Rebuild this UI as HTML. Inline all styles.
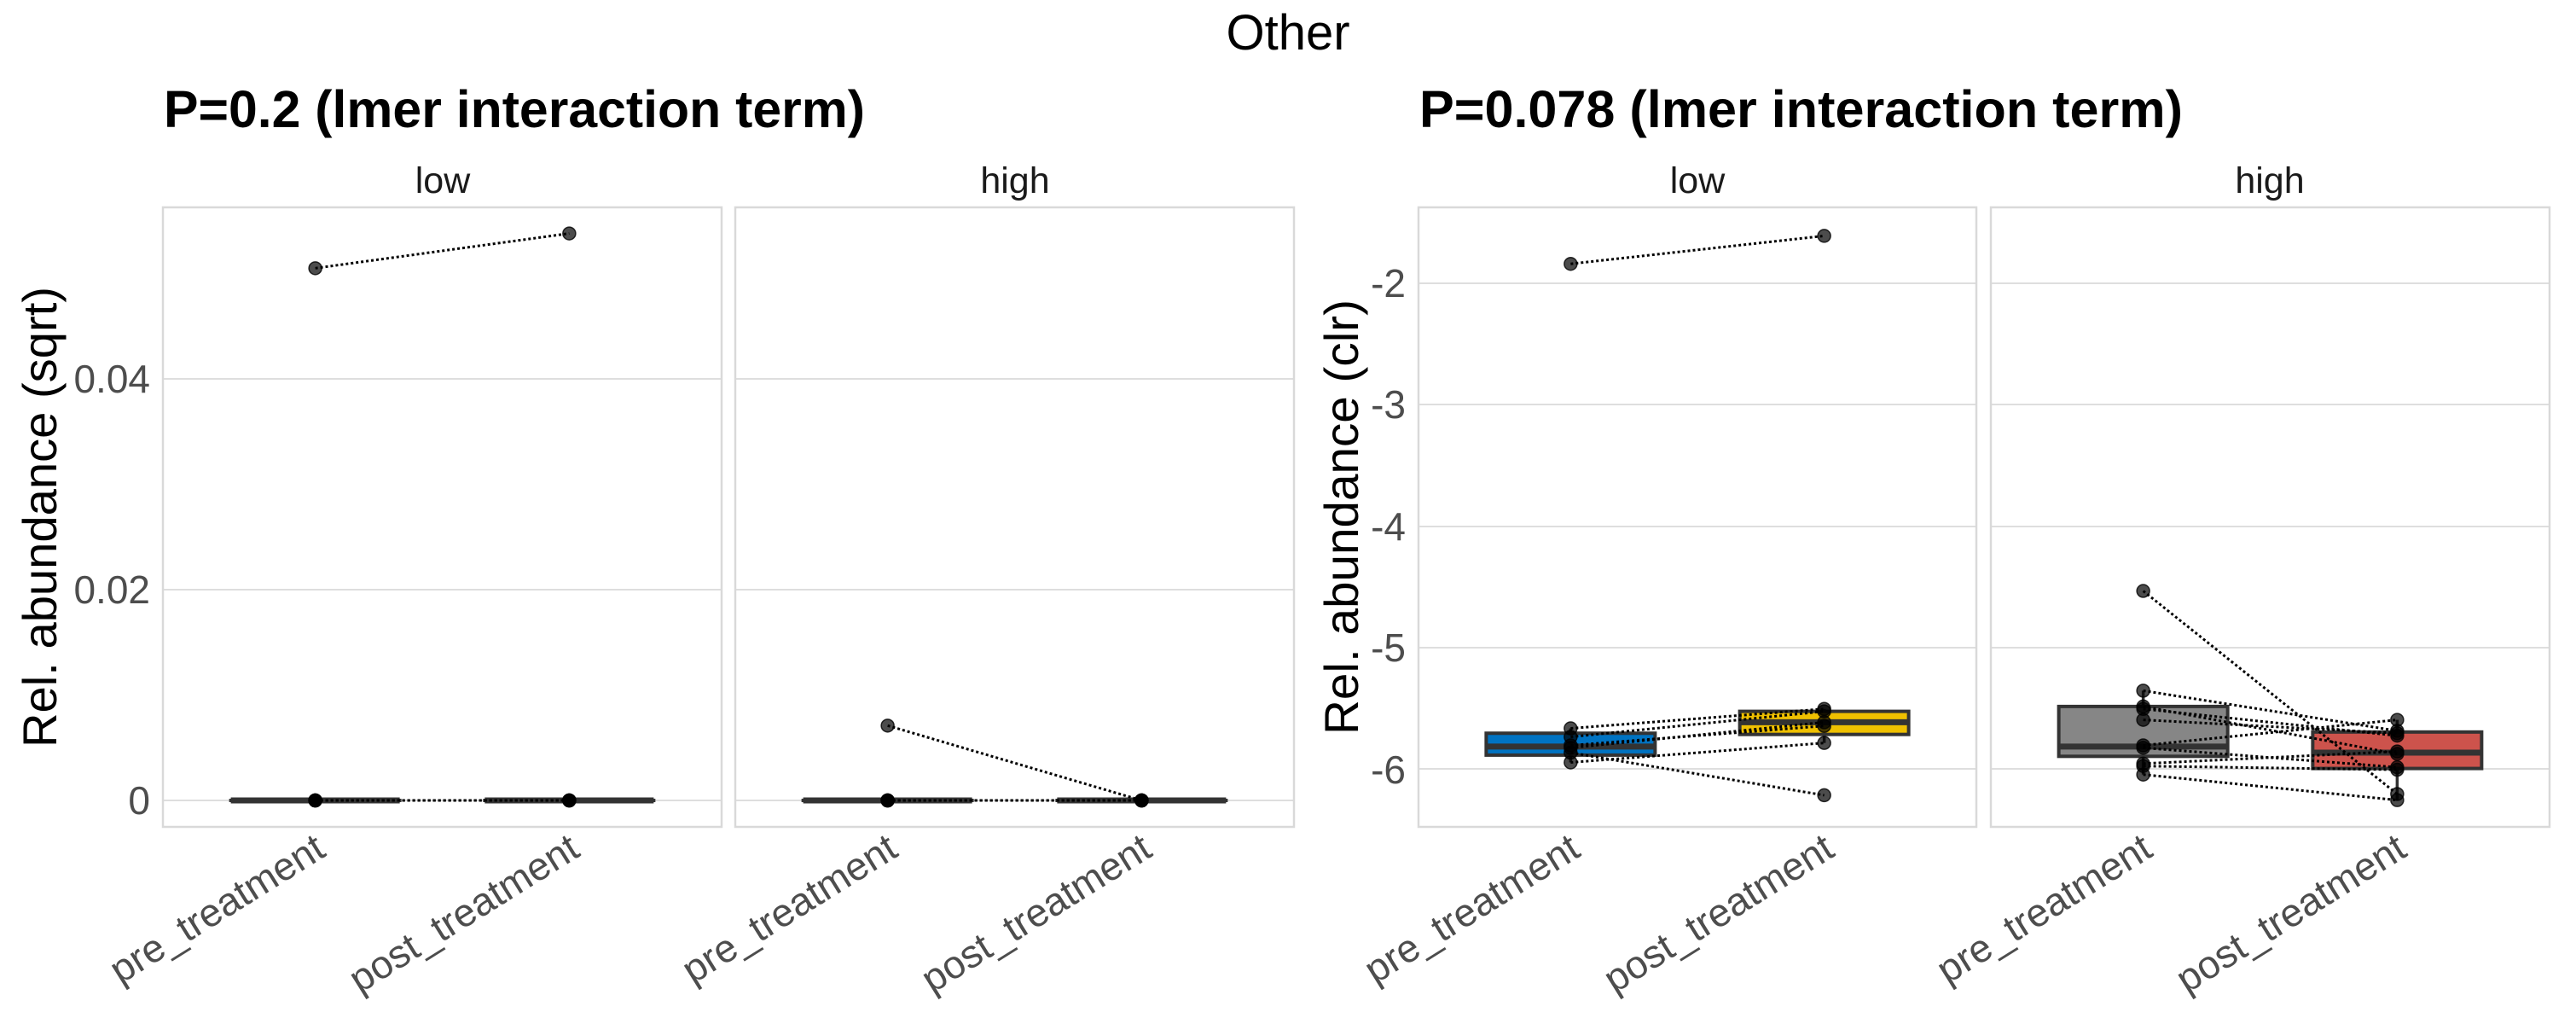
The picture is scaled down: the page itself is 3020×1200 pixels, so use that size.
<!DOCTYPE html>
<html><head><meta charset="utf-8"><style>
html,body{margin:0;padding:0;background:#fff;}
svg{display:block;font-family:"Liberation Sans",sans-serif;}
</style></head><body>
<svg id="s" width="3020" height="1200" viewBox="0 0 3020 1200" xmlns="http://www.w3.org/2000/svg">
<rect width="3020" height="1200" fill="#fff"/>
<g id="grid"></g>
<g id="data"></g>
<text x="1510" y="58" font-size="58" text-anchor="middle" fill="#000">Other</text>
<text x="192" y="149" font-size="61" font-weight="bold" textLength="822" lengthAdjust="spacingAndGlyphs">P=0.2 (lmer interaction term)</text>
<text x="1664" y="149" font-size="61" font-weight="bold" textLength="895" lengthAdjust="spacingAndGlyphs">P=0.078 (lmer interaction term)</text>
<g font-size="43" text-anchor="middle" fill="#1a1a1a">
<text x="519" y="226">low</text><text x="1190" y="226">high</text>
<text x="1990" y="226">low</text><text x="2661" y="226">high</text>
</g>
<g font-size="46" text-anchor="end" fill="#4d4d4d">
<text x="176" y="460">0.04</text><text x="176" y="707">0.02</text><text x="176" y="954">0</text>
<text x="1648" y="348">-2</text><text x="1648" y="490">-3</text><text x="1648" y="633">-4</text><text x="1648" y="775">-5</text><text x="1648" y="918">-6</text>
</g>
<text transform="translate(66,606) rotate(-90)" font-size="56" text-anchor="middle" fill="#000" textLength="540" lengthAdjust="spacingAndGlyphs">Rel. abundance (sqrt)</text>
<text transform="translate(1592,606) rotate(-90)" font-size="56" text-anchor="middle" fill="#000" textLength="510" lengthAdjust="spacingAndGlyphs">Rel. abundance (clr)</text>
<g font-size="46" text-anchor="end" fill="#4d4d4d">
<text transform="translate(384,1002) rotate(-32)">pre_treatment</text>
<text transform="translate(682,1002) rotate(-32)">post_treatment</text>
<text transform="translate(1055,1002) rotate(-32)">pre_treatment</text>
<text transform="translate(1353,1002) rotate(-32)">post_treatment</text>
<text transform="translate(1855,1002) rotate(-32)">pre_treatment</text>
<text transform="translate(2153,1002) rotate(-32)">post_treatment</text>
<text transform="translate(2526,1002) rotate(-32)">pre_treatment</text>
<text transform="translate(2824,1002) rotate(-32)">post_treatment</text>
</g>
</svg>
<script>
(function(){
var NS="http://www.w3.org/2000/svg";
var grid=document.getElementById("grid"),data=document.getElementById("data");
function el(p,tag,a){var e=document.createElementNS(NS,tag);for(var k in a)e.setAttribute(k,a[k]);p.appendChild(e);return e;}
var panels=[[191,846],[862,1517],[1663,2317],[2334,2989]];
var top=243,bot=969;
var gl=[[444,691,938],[444,691,938],[332,474,617,759,901],[332,474,617,759,901]];
panels.forEach(function(p,i){
 gl[i].forEach(function(y){el(grid,"line",{x1:p[0],x2:p[1],y1:y,y2:y,stroke:"#dedede","stroke-width":2});});
 el(grid,"rect",{x:p[0],y:top,width:p[1]-p[0],height:bot-top,fill:"none",stroke:"#d9d9d9","stroke-width":2.5});
});
function px(i,k){var p=panels[i];return p[0]+(p[1]-p[0])*(k==0?0.6/2.2:1.6/2.2);}
function ys(v){return 938-v/0.04*494;}
function yc(v){return 332-(v+2)*142.5;}
function box(i,k,q1,med,q3,fill,wlo,whi){
 var x=px(i,k),Y=i<2?ys:yc;
 if(wlo!==undefined){el(data,"line",{x1:x,x2:x,y1:Y(q1),y2:Y(wlo),stroke:"#333","stroke-width":3.5});}
 if(whi!==undefined){el(data,"line",{x1:x,x2:x,y1:Y(q3),y2:Y(whi),stroke:"#333","stroke-width":3.5});}
 el(data,"rect",{x:x-99,y:Y(q3),width:198,height:Math.max(Y(q1)-Y(q3),0.01),fill:fill,stroke:"#333","stroke-width":4});
 el(data,"line",{x1:x-99,x2:x+99,y1:Y(med),y2:Y(med),stroke:"#333","stroke-width":7});
}
function pairs(i,arr){
 var Y=i<2?ys:yc,x0=px(i,0),x1=px(i,1);
 arr.forEach(function(a){el(data,"line",{x1:x0,y1:Y(a[0]),x2:x1,y2:Y(a[1]),stroke:"#000","stroke-width":3,"stroke-dasharray":"3 3"});});
 arr.forEach(function(a){
  el(data,"circle",{cx:x0,cy:Y(a[0]),r:7.5,fill:"rgba(0,0,0,0.7)",stroke:"rgba(0,0,0,0.8)","stroke-width":1.5});
  el(data,"circle",{cx:x1,cy:Y(a[1]),r:7.5,fill:"rgba(0,0,0,0.7)",stroke:"rgba(0,0,0,0.8)","stroke-width":1.5});
 });
}
box(0,0,0,0,0,"#0073C2");box(0,1,0,0,0,"#EFC000");
box(1,0,0,0,0,"#868686");box(1,1,0,0,0,"#CD534C");
pairs(0,[[0.0505,0.0538],[0,0],[0,0],[0,0],[0,0]]);
pairs(1,[[0.0071,0],[0,0],[0,0],[0,0],[0,0]]);
box(2,0,-5.88,-5.81,-5.70,"#0073C2",-5.94,-5.66);
box(2,1,-5.71,-5.61,-5.52,"#EFC000",-5.78,-5.50);
pairs(2,[[-1.84,-1.61],[-5.66,-5.50],[-5.73,-5.52],[-5.82,-5.61],[-5.80,-5.64],[-5.86,-6.21],[-5.94,-5.78]]);
box(3,0,-5.89,-5.81,-5.48,"#868686",-6.04,-5.35);
box(3,1,-5.99,-5.86,-5.69,"#CD534C",-6.25,-5.59);
pairs(3,[[-4.53,-6.20],[-5.35,-5.68],[-5.48,-5.87],[-5.50,-5.72],[-5.59,-5.70],[-5.80,-5.59],[-5.82,-5.98],[-5.95,-5.85],[-5.97,-6.00],[-6.04,-6.25]]);
})();
</script>
</body></html>
